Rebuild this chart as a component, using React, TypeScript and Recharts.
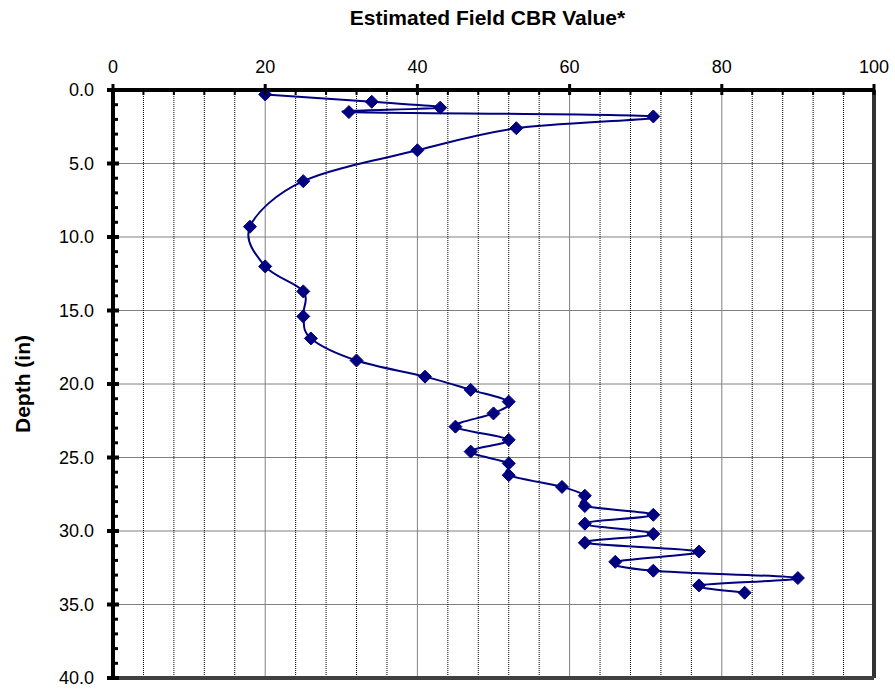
import React from 'react';
import { LineChart, Line, XAxis, YAxis, ReferenceLine } from 'recharts';

// Depth (in) of each reading and the estimated field CBR at that depth
const depths = [
  0.3, 0.8, 1.2, 1.5, 1.8, 2.6, 4.1, 6.2, 9.3, 12.0, 13.7, 15.4, 16.9, 18.4,
  19.5, 20.4, 21.2, 22.0, 22.9, 23.8, 24.6, 25.4, 26.2, 27.0, 27.6, 28.3, 28.9,
  29.5, 30.2, 30.8, 31.4, 32.1, 32.7, 33.2, 33.7, 34.2,
];
const cbrValues = [
  20, 34, 43, 31, 71, 53, 40, 25, 18, 20, 25, 25, 26, 32, 41, 47, 52, 50, 45,
  52, 47, 52, 52, 59, 62, 62, 71, 62, 71, 62, 77, 66, 71, 90, 77, 83,
];

// Axis ticks and grid positions
const cbrTicks = [0, 4, 8, 12, 16, 20, 24, 28, 32, 36, 40, 44, 48, 52, 56, 60, 64, 68, 72, 76, 80, 84, 88, 92, 96, 100];
const cbrMajorGrid = [20, 40, 60, 80];
const cbrMinorGrid = [4, 8, 12, 16, 24, 28, 32, 36, 44, 48, 52, 56, 64, 68, 72, 76, 84, 88, 92, 96];
const depthTicks = [
  0, 1, 2, 3, 4, 5, 6, 7, 8, 9, 10, 11, 12, 13, 14, 15, 16, 17, 18, 19, 20,
  21, 22, 23, 24, 25, 26, 27, 28, 29, 30, 31, 32, 33, 34, 35, 36, 37, 38, 39, 40,
];
const depthGrid = [5, 10, 15, 20, 25, 30, 35];

const data = depths.map((depth, i) => ({ depth, cbr: cbrValues[i] }));

const FONT = '"Liberation Sans", Arial, sans-serif';
const TOP_MARGIN = 10;
const LEFT_MARGIN = 10;

// Smoothed line through every point (cardinal spline, tension 1/6 per side)
function smoothCurve(context: any) {
  let pts: number[][] = [];
  return {
    areaStart() {},
    areaEnd() {},
    lineStart() {
      pts = [];
    },
    point(x: number, y: number) {
      pts.push([+x, +y]);
    },
    lineEnd() {
      const n = pts.length;
      if (!n) return;
      context.moveTo(pts[0][0], pts[0][1]);
      for (let i = 0; i < n - 1; i++) {
        const p0 = pts[Math.max(i - 1, 0)];
        const p1 = pts[i];
        const p2 = pts[i + 1];
        const p3 = pts[Math.min(i + 2, n - 1)];
        context.bezierCurveTo(
          p1[0] + (p2[0] - p0[0]) / 6,
          p1[1] + (p2[1] - p0[1]) / 6,
          p2[0] - (p3[0] - p1[0]) / 6,
          p2[1] - (p3[1] - p1[1]) / 6,
          p2[0],
          p2[1]
        );
      }
    },
  };
}

const TopTick = (props: any) => {
  const { x, y, payload } = props;
  const v = payload.value;
  const axisY = y + TOP_MARGIN;
  const major = v % 20 === 0;
  return (
    <g>
      {major ? (
        <line x1={x} x2={x} y1={axisY - 6} y2={axisY + 5} stroke="#000" strokeWidth={3} />
      ) : (
        <line x1={x} x2={x} y1={axisY} y2={axisY + 5} stroke="#000" strokeWidth={2} />
      )}
      {major && (
        <text x={x} y={axisY - 17.5} textAnchor="middle" fontSize={18} fontFamily={FONT} fill="#000">
          {v}
        </text>
      )}
    </g>
  );
};

const LeftTick = (props: any) => {
  const { x, y, payload } = props;
  const v = payload.value;
  const axisX = x + LEFT_MARGIN;
  const major = v % 5 === 0;
  return (
    <g>
      {major ? (
        <line x1={axisX - 6} x2={axisX + 6} y1={y} y2={y} stroke="#000" strokeWidth={4} />
      ) : (
        <line x1={axisX} x2={axisX + 5} y1={y} y2={y} stroke="#000" strokeWidth={3} />
      )}
      {major && (
        <text x={axisX - 19} y={y} dy="0.355em" textAnchor="end" fontSize={18} fontFamily={FONT} fill="#000">
          {v.toFixed(1)}
        </text>
      )}
    </g>
  );
};

const Diamond = (props: any) => {
  const { cx, cy, index } = props;
  if (cx == null || cy == null) return <g key={`d-${index}`} />;
  const r = 6.5;
  return (
    <polygon
      key={`d-${index}`}
      points={`${cx},${cy - r} ${cx + r},${cy} ${cx},${cy + r} ${cx - r},${cy}`}
      fill="#000080"
      stroke="#000080"
      strokeWidth={1}
    />
  );
};

const TitleLabel = (props: any) => {
  const vb = props.viewBox || {};
  return (
    <text
      x={vb.x + vb.width / 2 - 6}
      y={25}
      textAnchor="middle"
      fontSize={21}
      fontWeight="bold"
      fontFamily={FONT}
      fill="#000"
    >
      Estimated Field CBR Value*
    </text>
  );
};

const DepthLabel = (props: any) => {
  const vb = props.viewBox || {};
  const cx = 23;
  const cy = vb.y + vb.height / 2;
  return (
    <text
      x={cx}
      y={cy}
      transform={`rotate(-90 ${cx} ${cy})`}
      textAnchor="middle"
      dy="0.355em"
      fontSize={21}
      fontWeight="bold"
      fontFamily={FONT}
      fill="#000"
    >
      Depth (in)
    </text>
  );
};

export default function App() {
  return (
    <div style={{ position: 'absolute', left: 0, top: 0, width: 895, height: 689, background: '#fff' }}>
      <LineChart
        width={895}
        height={689}
        data={data}
        layout="vertical"
        margin={{ top: 50, right: 21, bottom: 11, left: 53 }}
      >
        {depthGrid.map((d) => (
          <ReferenceLine key={`h-${d}`} y={d} stroke="#808080" strokeWidth={1} />
        ))}
        {cbrMinorGrid.map((c) => (
          <ReferenceLine key={`vm-${c}`} x={c} stroke="#000" strokeWidth={1} strokeDasharray="1 1" />
        ))}
        {cbrMajorGrid.map((c) => (
          <ReferenceLine key={`vM-${c}`} x={c} stroke="#808080" strokeWidth={1} />
        ))}
        <ReferenceLine x={100} stroke="#333" strokeWidth={4} />
        <ReferenceLine y={40} stroke="#404040" strokeWidth={4} />
        <XAxis
          type="number"
          orientation="top"
          domain={[0, 100]}
          ticks={cbrTicks}
          interval={0}
          height={40}
          tickSize={0}
          tickMargin={TOP_MARGIN}
          tickLine={false}
          axisLine={{ stroke: '#000', strokeWidth: 4 }}
          tick={<TopTick />}
          label={<TitleLabel />}
        />
        <YAxis
          type="number"
          dataKey="depth"
          domain={[0, 40]}
          ticks={depthTicks}
          interval={0}
          width={60}
          tickSize={0}
          tickMargin={LEFT_MARGIN}
          tickLine={false}
          axisLine={{ stroke: '#000', strokeWidth: 4 }}
          tick={<LeftTick />}
          label={<DepthLabel />}
        />
        <Line
          dataKey="cbr"
          type={smoothCurve as any}
          stroke="#000080"
          strokeWidth={2}
          dot={<Diamond />}
          activeDot={false}
          isAnimationActive={false}
        />
      </LineChart>
    </div>
  );
}
